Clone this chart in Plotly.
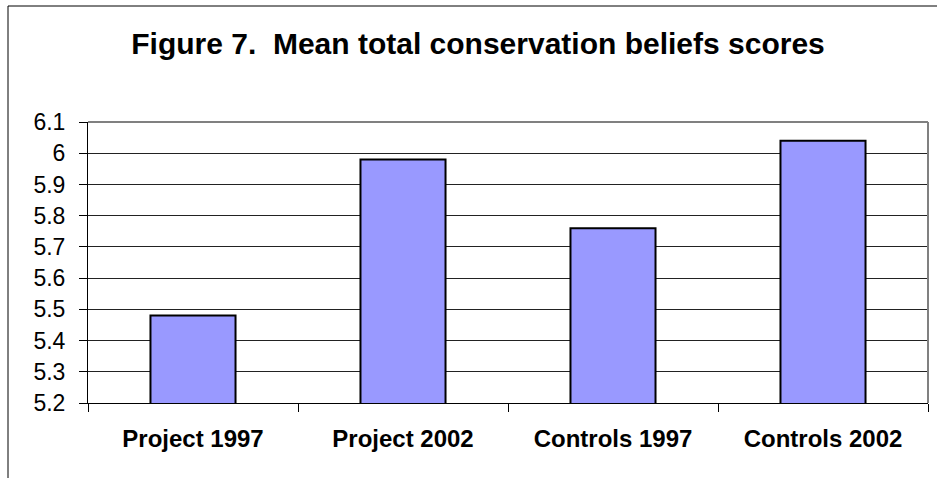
import plotly.graph_objects as go

# Mean total conservation beliefs scores by group and year
groups = ["Project 1997", "Project 2002", "Controls 1997", "Controls 2002"]
mean_scores = [5.48, 5.98, 5.76, 6.04]
y_ticks = [5.2, 5.3, 5.4, 5.5, 5.6, 5.7, 5.8, 5.9, 6.0, 6.1]
y_tick_text = ["5.2", "5.3", "5.4", "5.5", "5.6", "5.7", "5.8", "5.9", "6", "6.1"]

W, H = 937, 478
L, R, T, B = 88, 9, 122, 75
pw, ph = W - L - R, H - T - B
FONT = "Liberation Sans, Arial, sans-serif"

fig = go.Figure(
    go.Bar(
        x=groups,
        y=mean_scores,
        marker=dict(color="#9999FF", line=dict(color="#000000", width=2)),
        width=0.405,
        hoverinfo="x+y",
    )
)

fig.update_layout(
    width=W,
    height=H,
    margin=dict(l=L, r=R, t=T, b=B),
    paper_bgcolor="white",
    plot_bgcolor="white",
    showlegend=False,
    font=dict(family=FONT, color="#000000"),
    title=dict(
        text="<b>Figure 7.  Mean total conservation beliefs scores</b>",
        x=478 / W,
        xanchor="center",
        y=1 - 43 / H,
        yanchor="middle",
        font=dict(size=30, color="#000000", family=FONT),
    ),
)

fig.update_xaxes(
    type="category",
    showline=True,
    linecolor="#000000",
    linewidth=1,
    ticks="outside",
    tickson="boundaries",
    ticklen=8,
    tickcolor="#000000",
    tickwidth=1,
    tickfont=dict(size=24, family=FONT, weight="bold"),
    ticklabelstandoff=14,
    showgrid=False,
    mirror=False,
)

fig.update_yaxes(
    range=[5.2, 6.1],
    tickvals=y_ticks,
    ticktext=y_tick_text,
    showline=True,
    linecolor="#000000",
    linewidth=1,
    ticks="outside",
    ticklen=8,
    tickcolor="#000000",
    tickwidth=1,
    tickfont=dict(size=23, family=FONT),
    ticklabelstandoff=9,
    showgrid=True,
    gridcolor="#222222",
    gridwidth=1,
    zeroline=False,
)

# Gray frame on the top and right of the plot area
fig.add_shape(type="line", xref="paper", yref="paper", x0=0, x1=1, y0=1, y1=1,
              line=dict(color="#808080", width=2), layer="above")
fig.add_shape(type="line", xref="paper", yref="paper", x0=1, x1=1, y0=0, y1=1,
              line=dict(color="#808080", width=2), layer="above")

# Outer chart border
fig.add_shape(
    type="rect",
    xref="paper",
    yref="paper",
    x0=(8 - L) / pw,
    x1=(W + 20 - L) / pw,
    y0=-(B + 20) / ph,
    y1=(ph + T - 6) / ph,
    line=dict(color="#000000", width=1),
    fillcolor="rgba(0,0,0,0)",
    layer="above",
)

fig.write_html("out.html")
